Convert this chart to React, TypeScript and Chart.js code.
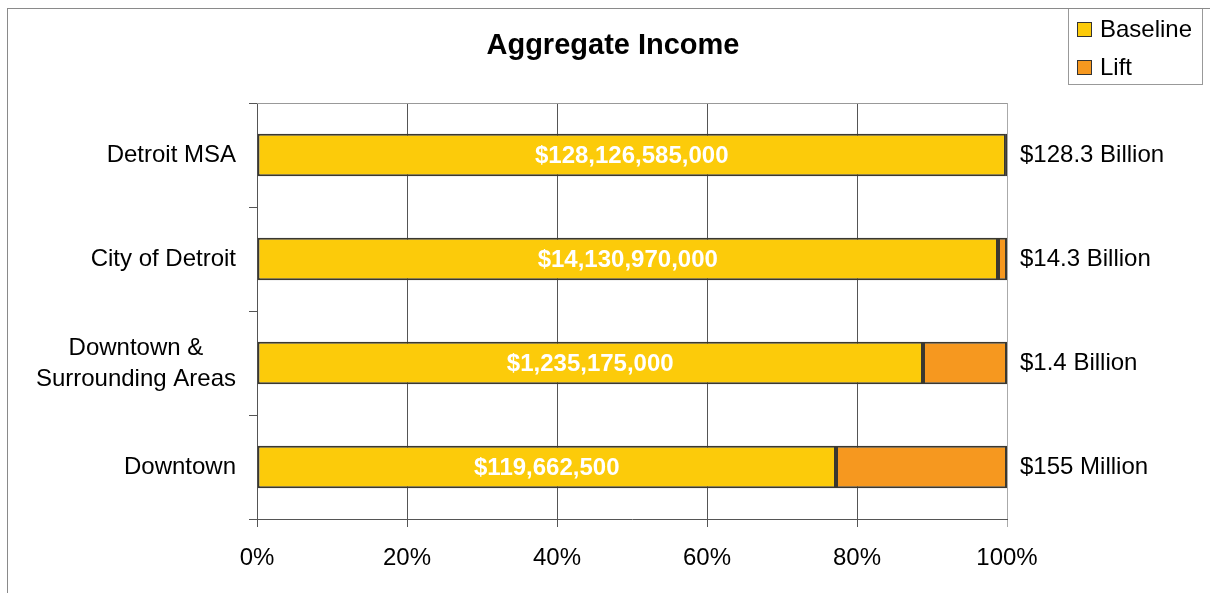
import React, { useEffect, useRef } from "react";
import { Chart, registerables } from "chart.js";

Chart.register(...registerables);

const categories: (string | string[])[] = [
  "Detroit MSA",
  "City of Detroit",
  ["Downtown &", "Surrounding Areas"],
  "Downtown",
];
const baselineShare = [99.86, 98.8, 88.8, 77.2];
const liftShare = [0.14, 1.2, 11.2, 22.8];
const baselineLabels = ["$128,126,585,000", "$14,130,970,000", "$1,235,175,000", "$119,662,500"];
const totalLabels = ["$128.3 Billion", "$14.3 Billion", "$1.4 Billion", "$155 Million"];
const xTicks = [0, 20, 40, 60, 80, 100];
const titleText = "Aggregate Income";
const seriesNames = ["Baseline", "Lift"];
const seriesColors = ["#FCCB0A", "#F6981F"];

const FONT = "'Liberation Sans', Arial, sans-serif";

const customPlugin = {
  id: "custom",
  afterDraw(chart: any) {
    const ctx = chart.ctx;
    const area = chart.chartArea;
    const yScale = chart.scales.y;
    ctx.save();
    // top border of plot area
    ctx.strokeStyle = "#999999";
    ctx.lineWidth = 1;
    ctx.beginPath();
    ctx.moveTo(area.left, Math.round(area.top) + 0.5);
    ctx.lineTo(area.right, Math.round(area.top) + 0.5);
    ctx.stroke();

    // title
    ctx.fillStyle = "#000";
    ctx.font = `bold 29px ${FONT}`;
    ctx.textAlign = "center";
    ctx.textBaseline = "middle";
    ctx.fillText(titleText, 605, 37);

    // y labels
    ctx.font = `24px ${FONT}`;
    categories.forEach((c, i) => {
      const y = yScale.getPixelForValue(i);
      const rightX = 228;
      if (Array.isArray(c)) {
        const widest = Math.max(...c.map((l) => ctx.measureText(l).width));
        const cx = rightX - widest / 2;
        ctx.textAlign = "center";
        const lh = 31;
        c.forEach((l, j) => {
          ctx.fillText(l, cx, y + (j - (c.length - 1) / 2) * lh + 1);
        });
      } else {
        ctx.textAlign = "right";
        ctx.fillText(c, rightX, y);
      }
    });

    // data labels inside baseline bars
    const meta0 = chart.getDatasetMeta(0);
    ctx.font = `bold 24px ${FONT}`;
    ctx.fillStyle = "#ffffff";
    ctx.textAlign = "center";
    meta0.data.forEach((bar: any, i: number) => {
      const cx = (bar.x + bar.base) / 2;
      ctx.fillText(baselineLabels[i], cx, bar.y + 1);
    });

    // totals on right
    ctx.font = `24px ${FONT}`;
    ctx.fillStyle = "#000";
    ctx.textAlign = "left";
    meta0.data.forEach((bar: any, i: number) => {
      ctx.fillText(totalLabels[i], area.right + 13, bar.y);
    });

    // legend
    ctx.strokeStyle = "#999999";
    ctx.lineWidth = 1;
    ctx.fillStyle = "#fff";
    ctx.fillRect(1060, 0, 134, 75);
    ctx.strokeRect(1060.5, -0.5, 134, 76);
    seriesNames.forEach((n, i) => {
      const sy = 13 + i * 38;
      ctx.fillStyle = seriesColors[i];
      ctx.fillRect(1069, sy, 15, 15);
      ctx.strokeStyle = "#333";
      ctx.strokeRect(1069.5, sy + 0.5, 14, 14);
      ctx.fillStyle = "#000";
      ctx.font = `24px ${FONT}`;
      ctx.textAlign = "left";
      ctx.textBaseline = "middle";
      ctx.fillText(n, 1092, sy + 8);
    });
    ctx.restore();
  },
};

export default function App() {
  const ref = useRef<HTMLCanvasElement>(null);
  useEffect(() => {
    if (!ref.current) return;
    const chart = new Chart(ref.current, {
      type: "bar",
      data: {
        labels: categories as any,
        datasets: seriesNames.map((n, i) => ({
          label: n,
          data: i === 0 ? baselineShare : liftShare,
          backgroundColor: seriesColors[i],
          borderColor: "#3a3830",
          borderWidth: 2,
          borderSkipped: false,
          categoryPercentage: 1,
          barPercentage: 0.41,
        })),
      },
      plugins: [customPlugin],
      options: {
        indexAxis: "y",
        animation: false,
        responsive: false,
        layout: { padding: { top: 94, right: 203, left: 0, bottom: 0 } },
        plugins: {
          legend: { display: false },
          title: { display: false },
          tooltip: { enabled: false },
        },
        scales: {
          x: {
            stacked: true,
            min: 0,
            max: 100,
            afterBuildTicks: (scale: any) => {
              scale.ticks = xTicks.map((v) => ({ value: v }));
            },
            afterFit: (scale: any) => {
              scale.height = 74;
            },
            ticks: {
              callback: (v: any) => `${v}%`,
              font: { family: FONT, size: 24 },
              color: "#000",
              padding: 17,
              maxRotation: 0,
              autoSkip: false,
            },
            grid: {
              color: (c: any) => (c.tick && c.tick.value === 100 ? "#aaaaaa" : "#555555"),
              tickLength: 8,
              lineWidth: 1,
            },
            border: { color: "#555555", width: 1 },
          },
          y: {
            stacked: true,
            afterFit: (scale: any) => {
              scale.width = 249;
            },
            ticks: { display: false },
            grid: {
              offset: true,
              drawOnChartArea: false,
              tickLength: 8,
              color: "#555555",
            },
            border: { color: "#555555", width: 1 },
          },
        },
      },
    });
    return () => chart.destroy();
  }, []);
  return (
    <div
      style={{
        position: "fixed",
        left: 7,
        top: 8,
        width: 1203,
        height: 585,
        borderTop: "1px solid #8a8a8a",
        borderLeft: "1px solid #8a8a8a",
        background: "#fff",
      }}
    >
      <canvas ref={ref} width={1202} height={584} style={{ display: "block" }} />
    </div>
  );
}
